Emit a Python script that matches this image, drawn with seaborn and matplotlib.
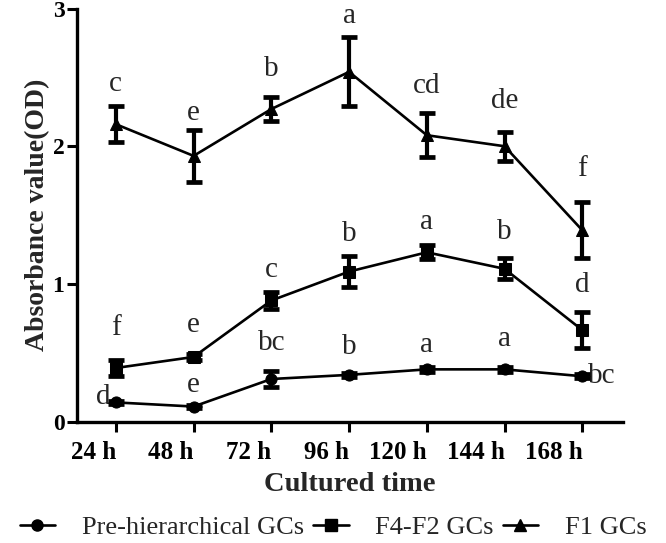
import numpy as np
import pandas as pd
import matplotlib
matplotlib.use("Agg")
import matplotlib.pyplot as plt
import seaborn as sns
from matplotlib.lines import Line2D

categories = ["24 h", "48 h", "72 h", "96 h", "120 h", "144 h", "168 h"]
series_names = ["Pre-hierarchical GCs", "F4-F2 GCs", "F1 GCs"]

pre_mean = [0.14, 0.11, 0.31, 0.34, 0.38, 0.38, 0.33]
pre_err = [0.01, 0.01, 0.06, 0.015, 0.02, 0.02, 0.015]
f42_mean = [0.39, 0.47, 0.88, 1.09, 1.23, 1.11, 0.665]
f42_err = [0.06, 0.02, 0.06, 0.11, 0.05, 0.075, 0.13]
f1_mean = [2.16, 1.93, 2.27, 2.54, 2.08, 2.00, 1.39]
f1_err = [0.13, 0.19, 0.085, 0.25, 0.16, 0.105, 0.205]

pre_letters = ["d", "e", "bc", "b", "a", "a", "bc"]
pre_letter_y = [0.18, 0.27, 0.57, 0.545, 0.555, 0.60, 0.33]
f42_letters = ["f", "e", "c", "b", "a", "b", "d"]
f42_letter_y = [0.68, 0.70, 1.10, 1.365, 1.45, 1.375, 0.99]
f1_letters = ["c", "e", "b", "a", "cd", "de", "f"]
f1_letter_y = [2.45, 2.245, 2.56, 2.945, 2.44, 2.33, 1.835]

sns.set_style("ticks")
plt.rcParams["font.family"] = ["Liberation Serif", "DejaVu Serif"]

means = [pre_mean, f42_mean, f1_mean]
errs = [pre_err, f42_err, f1_err]
rows = []
for name, m in zip(series_names, means):
    for i, v in enumerate(m):
        rows.append({"pos": i, "value": v, "group": name})
df = pd.DataFrame(rows)

fig = plt.figure(figsize=(6.66, 5.43), dpi=100)
ax = fig.add_axes([0.1156, 0.2234, 0.935 - 0.1156, 0.9843 - 0.2234])

markers = {"Pre-hierarchical GCs": "o", "F4-F2 GCs": "s", "F1 GCs": "^"}
palette = {n: "black" for n in series_names}
sns.lineplot(data=df, x="pos", y="value", hue="group", style="group",
             markers=markers, dashes=False, palette=palette, ax=ax,
             linewidth=1.9, markersize=8, markeredgecolor="black",
             legend=False, zorder=3)

x = np.arange(len(categories))
for m, e in zip(means, errs):
    ax.errorbar(x, m, yerr=e, fmt="none", ecolor="black", elinewidth=3.0,
                capsize=6, capthick=3.4, zorder=4)

LFS = 21
for i in range(len(categories)):
    ax.text(i, f1_letter_y[i], f1_letters[i], ha="center", va="center", fontsize=LFS)
    ax.text(i, f42_letter_y[i], f42_letters[i], ha="center", va="center", fontsize=LFS)
    if i == 0:
        ax.text(i - 0.07, pre_letter_y[i], pre_letters[i], ha="right", va="center", fontsize=LFS)
    elif i == len(categories) - 1:
        ax.text(i + 0.07, pre_letter_y[i], pre_letters[i], ha="left", va="center", fontsize=LFS)
    else:
        ax.text(i, pre_letter_y[i], pre_letters[i], ha="center", va="center", fontsize=LFS)

ax.set_xlim(-0.5, 6.52)
ax.set_ylim(0, 3)
ax.set_yticks([0, 1, 2, 3])
ax.set_yticklabels(["0", "1", "2", "3"], fontsize=17, fontweight="bold")
ax.set_xticks(x)
ax.set_xticklabels(categories, fontsize=18, fontweight="bold", ha="right")
ax.tick_params(axis="both", direction="out", length=7, width=2.2, colors="black")
ax.tick_params(axis="x", pad=7)
ax.tick_params(axis="y", pad=2)
for s in ["left", "bottom"]:
    ax.spines[s].set_linewidth(2.4)
    ax.spines[s].set_color("black")
sns.despine(ax=ax)

ax.set_xlabel("Cultured time", fontsize=20.5, fontweight="bold", labelpad=6)
ax.set_ylabel("Absorbance value(OD)", fontsize=20, fontweight="bold", labelpad=2)

handles = [Line2D([0], [0], color="black", lw=1.9, marker=markers[n], markersize=8)
           for n in series_names]
fig.legend(handles, series_names, loc="center", bbox_to_anchor=(0.5, 0.029),
           ncol=3, frameon=False, fontsize=19, handlelength=1.35,
           columnspacing=0.35, handletextpad=1.0)

fig.savefig("out.png", dpi=100)
